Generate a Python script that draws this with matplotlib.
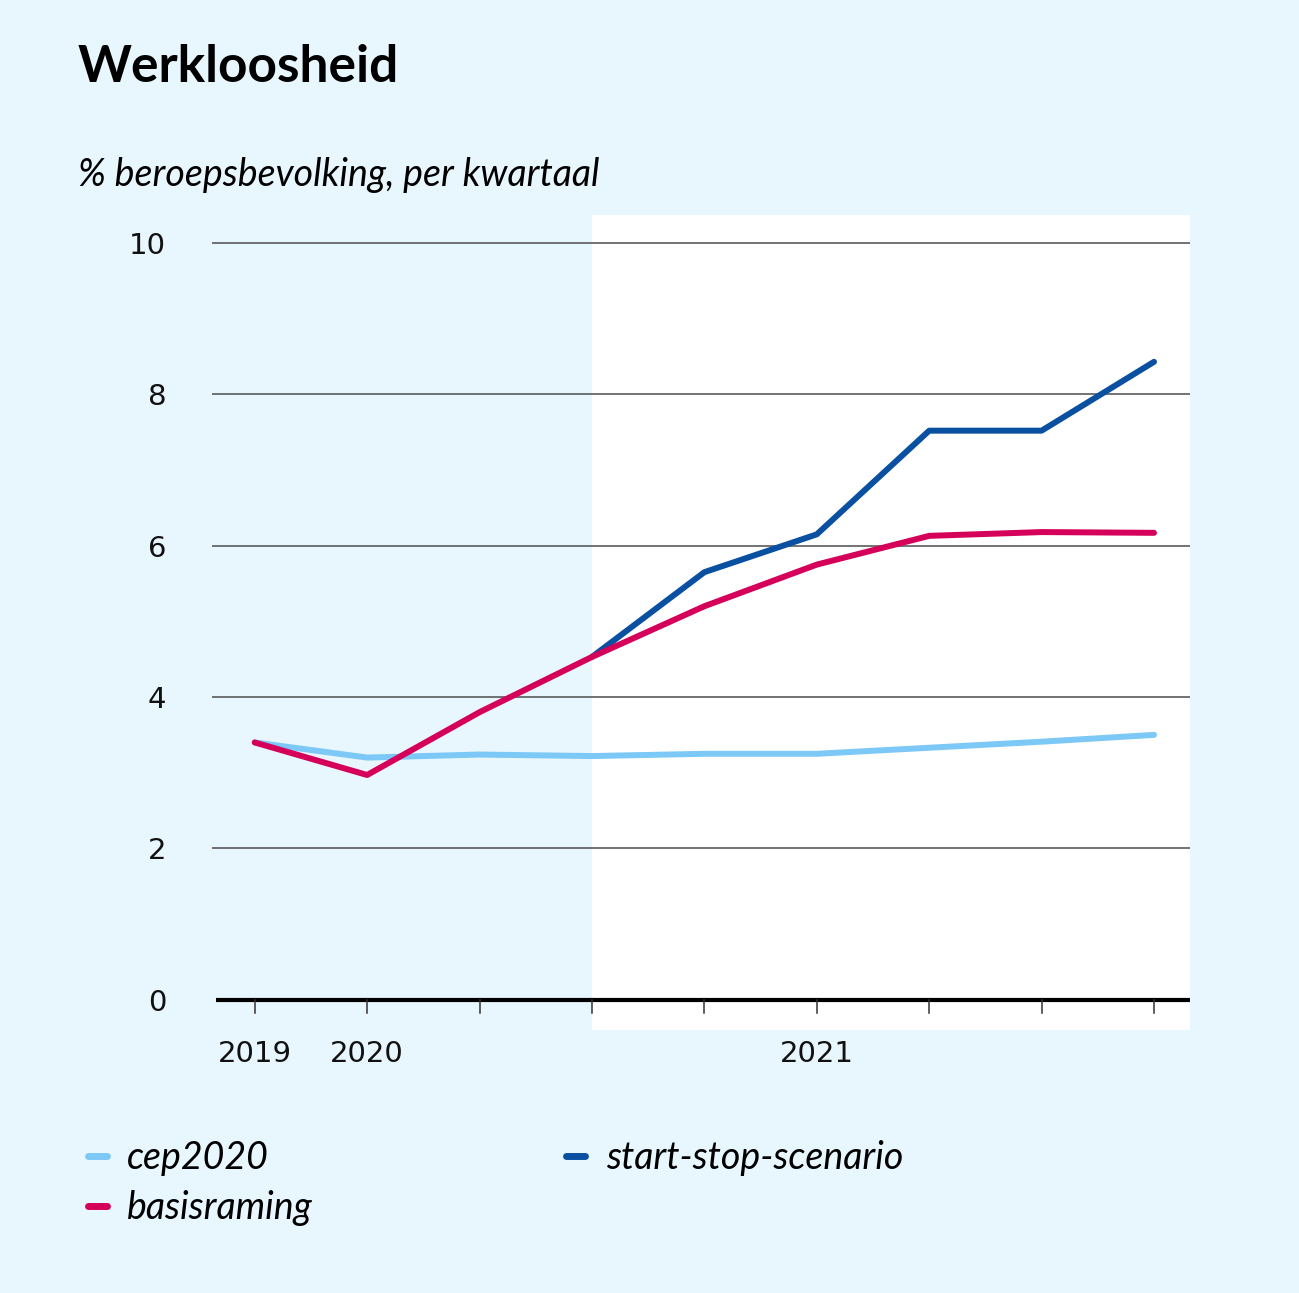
"""Werkloosheid: cep2020, basisraming en start-stop-scenario per kwartaal."""

import matplotlib
matplotlib.use("Agg")
import matplotlib.pyplot as plt
from matplotlib.patches import Rectangle

BG = "#E8F6FE"
C_CEP = "#7CC8F6"
C_BASIS = "#D5005A"
C_START = "#0A50A1"

quarters = list(range(9))
x_labels = {0: "2019", 1: "2020", 5: "2021"}
cep2020 = [3.4, 3.2, 3.24, 3.22, 3.25, 3.25, 3.33, 3.41, 3.5]
basisraming = [3.4, 2.97, 3.8, 4.53, 5.2, 5.75, 6.13, 6.18, 6.17]
start_quarters = [3, 4, 5, 6, 7, 8]
start_stop = [4.53, 5.65, 6.15, 7.52, 7.52, 8.43]
y_ticks = [0, 2, 4, 6, 8, 10]

W, H = 1299, 1293
fig = plt.figure(figsize=(W / 100, H / 100), dpi=100, facecolor=BG)
plt.rcParams["font.family"] = ["Lato", "DejaVu Sans"]
NUM_FONT = "DejaVu Sans"

ax_l, ax_r, ax_t, ax_b = 212, 1190, 215, 1030
ax = fig.add_axes([ax_l / W, 1 - ax_b / H, (ax_r - ax_l) / W, (ax_b - ax_t) / H])
ax.set_facecolor("none")
xmin, xmax = -0.38, 8.32
ymin, ymax = -0.40, 10.37
ax.set_xlim(xmin, xmax)
ax.set_ylim(ymin, ymax)
for s in ax.spines.values():
    s.set_visible(False)

# white forecast panel
ax.add_patch(Rectangle((3, ymin), xmax - 3, ymax - ymin, facecolor="white",
                       edgecolor="none", zorder=0))

for y in y_ticks[1:]:
    ax.axhline(y, color="#4d4d4d", lw=1.1, zorder=1)
ax.plot([xmin + 0.04, xmax], [0, 0], color="black", lw=3.0, zorder=2,
        solid_capstyle="butt")
for q in quarters:
    ax.plot([q, q], [0, -0.17], color="#333333", lw=1.1, zorder=2)

ax.plot(quarters, cep2020, color=C_CEP, lw=4.3, solid_capstyle="round", zorder=3)
ax.plot(start_quarters, start_stop, color=C_START, lw=4.3,
        solid_capstyle="round", zorder=4)
ax.plot(quarters, basisraming, color=C_BASIS, lw=4.3, solid_capstyle="round", zorder=5)

ax.set_yticks(y_ticks)
ax.set_yticklabels([str(v) for v in y_ticks], fontsize=21, family=NUM_FONT,
                   color="#111111")
ax.tick_params(axis="y", length=0, pad=33)
ax.set_xticks([])
for q, lab in x_labels.items():
    ax.text(q, -0.72, lab, ha="center", va="center", fontsize=21,
            family=NUM_FONT, color="#111111")

fig.text(78 / W, 1 - 68 / H, "Werkloosheid", fontsize=37, fontweight="bold",
         va="center", ha="left")
fig.text(78 / W, 1 - 175 / H, "% beroepsbevolking, per kwartaal", fontsize=27,
         style="italic", va="center", ha="left")

handles = [
    plt.Line2D([], [], color=C_CEP, lw=5, solid_capstyle="round"),
    plt.Line2D([], [], color=C_BASIS, lw=5, solid_capstyle="round"),
    plt.Line2D([], [], color=C_START, lw=5, solid_capstyle="round"),
]
labels = ["cep2020", "basisraming", "start-stop-scenario"]
leg = fig.legend(handles, labels, ncol=2, loc="upper left",
                 bbox_to_anchor=(88 / W, 1 - 1140 / H), frameon=False,
                 borderpad=0, borderaxespad=0,
                 handlelength=0.5, handletextpad=0.55, columnspacing=6.75,
                 labelspacing=0.38, prop={"size": 27, "style": "italic"})

fig.savefig("out.png", dpi=100, facecolor=BG)
